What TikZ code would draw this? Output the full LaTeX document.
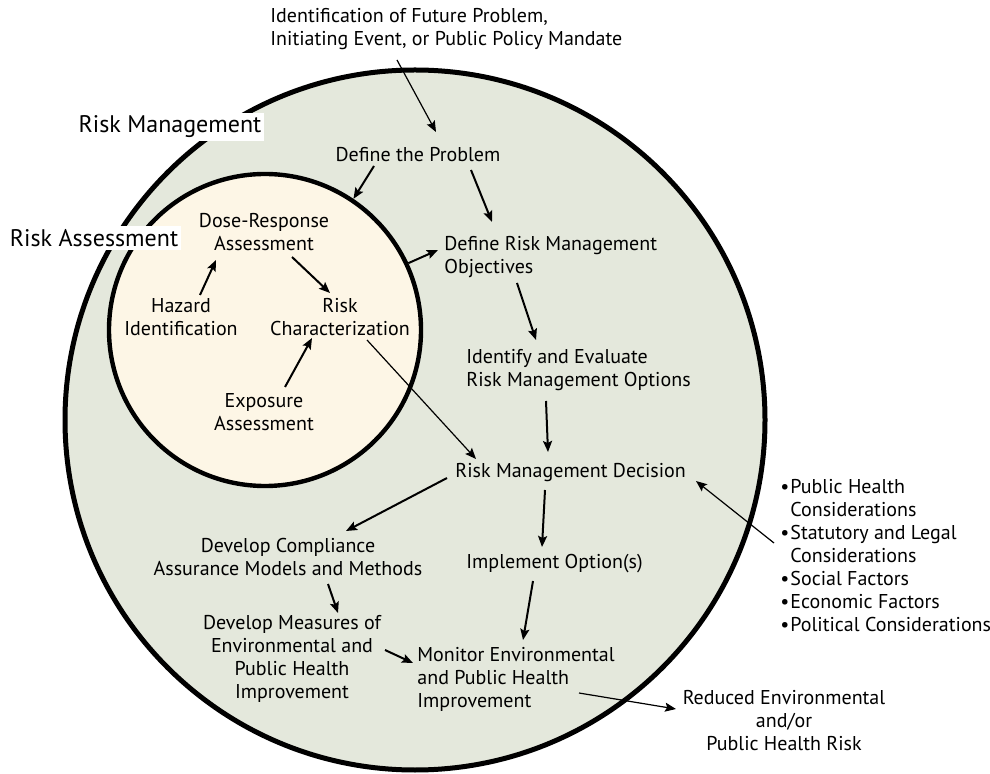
\documentclass[tikz,border=0pt]{standalone}
\usepackage{fontspec}
\setmainfont{PT Sans}
\usetikzlibrary{arrows.meta}
\usetikzlibrary{calc}

\definecolor{mgmtfill}{RGB}{228,232,220}
\definecolor{assessfill}{RGB}{253,246,230}
\newcommand{\bul}{\makebox[5pt][l]{\textbullet}}
\newcommand{\nobul}{\hspace*{5pt}}

\begin{document}
\begin{tikzpicture}[x=0.5pt, y=-0.5pt,
    every node/.style={inner sep=0pt, font=\fontsize{10}{11.5}\selectfont},
    txt/.style={align=center},
    ltxt/.style={align=left, anchor=west},
    title/.style={fill=white, inner sep=1.5pt, font=\fontsize{12}{14}\selectfont},
    arrow/.style={line width=1pt, -{Stealth[length=5.5pt,width=4.5pt,inset=1pt]}},
    thinarrow/.style={line width=0.6pt, -{Stealth[length=5.5pt,width=4.5pt,inset=1pt]}}]

  \useasboundingbox (0,0) rectangle (990,774);

  % the two circles
  \node[circle, draw, line width=2.5pt, fill=mgmtfill, minimum size=350pt] (mgmt) at (415,420) {};
  \node[title] (mgmt_lbl) at (170,127) {Risk Management};
  \node[circle, draw, line width=2.2pt, fill=assessfill, minimum size=156pt] (assess) at (265,330) {};
  \node[title] (assess_lbl) at (94,238) {Risk Assessment};

  % risk assessment steps
  \node[txt] (dose) at (264,232) {Dose-Response\\Assessment};
  \node[txt] (hazard) at (181,317) {Hazard\\Identification};
  \node[txt] (riskchar) at (340,317) {Risk\\Characterization};
  \node[txt] (expo) at (264,412) {Exposure\\Assessment};

  % risk management steps
  \node[ltxt] (start) at (270,29) {Identification of Future Problem,\\Initiating Event, or Public Policy Mandate};
  \node[txt] (problem) at (418,155) {Define the Problem};
  \node[ltxt] (objectives) at (444,257) {Define Risk Management\\Objectives};
  \node[ltxt] (options) at (466,370) {Identify and Evaluate\\Risk Management Options};
  \node[ltxt] (decision) at (455,473) {Risk Management Decision};
  \node[ltxt] (implement) at (466,564) {Implement Option(s)};
  \node[txt] (compliance) at (288,557) {Develop Compliance\\Assurance Models and Methods};
  \node[txt] (measures) at (292,659) {Develop Measures of\\Environmental and\\Public Health\\Improvement};
  \node[ltxt] (monitor) at (417,679) {Monitor Environmental\\and Public Health\\Improvement};
  \node[txt] (reduced) at (784,721) {Reduced Environmental\\and/or\\Public Health Risk};
  \node[ltxt] (factors) at (780,556) {\bul Public Health\\\nobul Considerations\\\bul Statutory and Legal\\\nobul Considerations\\\bul Social Factors\\\bul Economic Factors\\\bul Political Considerations};

  % arrows
  \draw[thinarrow] ($(start.west)+(127,31)$) -- ($(problem)+(18,-23)$);
  \draw[arrow] ($(problem)+(-44,11)$) -- (assess.56);
  \draw[arrow] ($(problem)+(53,15)$) -- ($(objectives.west)+(48,-35)$);
  \draw[arrow] (assess.25) -- ($(objectives.west)+(-6,-7)$);
  \draw[arrow] ($(hazard)+(19,-22)$) -- ($(dose)+(-48,28)$);
  \draw[arrow] ($(dose)+(28,25)$) -- ($(riskchar)+(-10,-24)$);
  \draw[arrow] ($(expo)+(21,-25)$) -- ($(riskchar)+(-28,21)$);
  \draw[thinarrow] ($(riskchar)+(27,23)$) -- ($(decision.west)+(21,-14)$);
  \draw[arrow] ($(objectives.west)+(73,26)$) -- ($(options.west)+(70,-30)$);
  \draw[arrow] ($(options.west)+(80,31)$) -- ($(decision.west)+(93,-21)$);
  \draw[arrow] ($(decision.west)+(-8,5)$) -- ($(compliance)+(58,-26)$);
  \draw[arrow] ($(decision.west)+(90,17)$) -- ($(implement.west)+(76,-17)$);
  \draw[arrow] ($(implement.west)+(67,17)$) -- ($(monitor.west)+(106,-39)$);
  \draw[arrow] ($(compliance)+(40,27)$) -- ($(measures)+(46,-46)$);
  \draw[arrow] ($(measures)+(93,-9)$) -- ($(monitor.west)+(-4,-16)$);
  \draw[thinarrow] ($(monitor.west)+(162,14)$) -- ($(reduced)+(-108,-12)$);
  \draw[thinarrow] ($(factors.west)+(-6,-13)$) -- ($(decision.west)+(241,8)$);
\end{tikzpicture}
\end{document}
